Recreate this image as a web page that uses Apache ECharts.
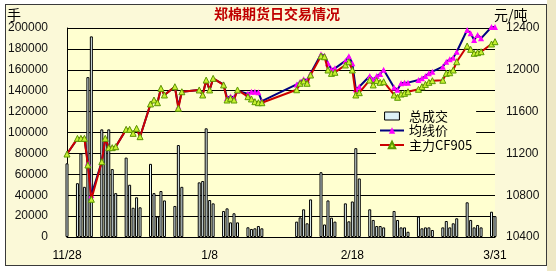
<!DOCTYPE html>
<html><head><meta charset="utf-8">
<script src="https://cdn.jsdelivr.net/npm/echarts@6/dist/echarts.min.js"></script>
<style>
html,body{margin:0;padding:0;background:#fff}
#wrap{position:relative;width:556px;height:271px;overflow:hidden}
#strip{position:absolute;left:547px;top:0;width:9px;height:271px;background:#EEE8C6}
#frame{position:absolute;left:5px;top:4px;width:540px;height:260px;border:1px solid #3a3a3a;background:#FBF9D8}
#c{position:absolute;left:0;top:0;width:556px;height:271px}
</style>
</head><body><div id="wrap"><div id="strip"></div><div id="frame"></div><div id="c"></div></div>
<script>
const tradeDates = ['2008-11-28','2008-12-01','2008-12-02','2008-12-03','2008-12-04','2008-12-05','2008-12-08','2008-12-09','2008-12-10','2008-12-11','2008-12-12','2008-12-15','2008-12-16','2008-12-17','2008-12-18','2008-12-19','2008-12-22','2008-12-23','2008-12-24','2008-12-25','2008-12-26','2008-12-29','2008-12-30','2008-12-31','2009-01-05','2009-01-06','2009-01-07','2009-01-08','2009-01-09','2009-01-12','2009-01-13','2009-01-14','2009-01-15','2009-01-16','2009-01-19','2009-01-20','2009-01-21','2009-01-22','2009-01-23','2009-02-02','2009-02-03','2009-02-04','2009-02-05','2009-02-06','2009-02-09','2009-02-10','2009-02-11','2009-02-12','2009-02-13','2009-02-16','2009-02-17','2009-02-18','2009-02-19','2009-02-20','2009-02-23','2009-02-24','2009-02-25','2009-02-26','2009-02-27','2009-03-02','2009-03-03','2009-03-04','2009-03-05','2009-03-06','2009-03-09','2009-03-10','2009-03-11','2009-03-12','2009-03-13','2009-03-16','2009-03-17','2009-03-18','2009-03-19','2009-03-20','2009-03-23','2009-03-24','2009-03-25','2009-03-26','2009-03-27','2009-03-30','2009-03-31'];
const volume = [70500,51500,80000,48000,153000,192000,103000,95000,103000,65000,42000,
  76000,50000,28000,38000,28400,
  70000,42000,19500,44000,35000,
  29700,88000,48000,
  52300,53600,104000,35400,32200,
  24900,27400,14000,22700,14000,
  9300,7700,8300,10500,8300,
  14700,18800,26500,13100,36000,
  62000,12000,35000,18500,14700,
  32200,15000,34000,85000,56000,
  26500,16300,10500,10500,9200,
  24900,16300,9200,9200,5000,
  19500,8300,9200,9200,6700,
  9200,15300,9200,13100,17900,
  33200,16300,9200,11500,9200,
  24200,20000];
const mainPrice = [11194,11344,11344,11344,11089,10761,11121,11344,11255,11255,11264,
  11430,11430,11392,11440,11360,
  11673,11711,11685,11823,11759,
  11838,11632,11790,
  11807,11759,11902,11807,11918,
  11855,11711,11727,11711,11807,
  11743,11721,11695,11685,11685,
  11809,11871,11893,11871,11950,
  12132,12125,11998,11966,11976,
  12046,12077,11998,11759,11781,
  11902,11855,11896,11880,11886,
  11759,11737,11768,11775,11790,
  11813,11838,11860,11880,11896,
  11900,11966,11972,11998,12077,
  12228,12196,12158,12164,12173,
  12247,12269];
const avgPrice = [11194,11340,11344,11344,11110,10800,11121,11340,11255,11255,11264,
  11430,11430,11392,11440,11360,
  11673,11711,11685,11823,11759,
  11838,11650,11790,
  11807,11765,11895,11810,11915,
  11860,11730,11745,11735,11800,
  11770,11790,11790,11785,11700,
  11860,11886,11910,11900,11965,
  12150,12135,12062,12005,12014,
  12085,12130,12062,11815,11838,
  11941,11905,11940,11960,12000,
  11830,11810,11871,11877,11877,
  11902,11918,11940,11966,11982,
  12030,12077,12100,12115,12173,
  12381,12349,12285,12333,12301,
  12410,12410];
const xTickLabels = ['11/28','1/8','2/18','3/31'];
const seriesNames = ['总成交','均线价','主力CF905'];
const titleText = '郑棉期货日交易情况';
const leftUnit = '手';
const rightUnit = '元/吨';

const startDate = tradeDates[0];
const dayMs = 86400000;
function dayIndex(s){ return Math.round((Date.parse(s+'T00:00:00Z') - Date.parse(startDate+'T00:00:00Z'))/dayMs); }
const xs = tradeDates.map(dayIndex);
const lastDay = xs[xs.length-1];
const tickStep = lastDay / (xTickLabels.length - 1);

const FONT = "'Liberation Sans', 'Noto Sans CJK SC', sans-serif";
const CJK = "'Noto Sans CJK SC', 'Liberation Sans', sans-serif";
const plotBg = '#FFFFD0';
const plain = function(v){ return String(v); };
const noTick = {show:true, length:0, lineStyle:{color:'rgba(0,0,0,0)'}};

const chart = echarts.init(document.getElementById('c'), null, {renderer:'canvas'});
chart.setOption({
  animation:false,
  backgroundColor:'transparent',
  graphic:[
    {type:'text', x:277, y:14, style:{text:titleText, fontSize:14, fontWeight:'bold', fontFamily:CJK, fill:'#C00000', align:'center', verticalAlign:'middle'}},
    {type:'text', x:7, y:15, style:{text:leftUnit, fontSize:14, fontFamily:CJK, fill:'#000', align:'left', verticalAlign:'middle'}},
    {type:'text', x:494, y:15, style:{text:rightUnit, fontSize:14, fontFamily:CJK, fill:'#000', align:'left', verticalAlign:'middle'}}
  ],
  grid:{left:67, top:28, width:428, height:209, show:true, backgroundColor:plotBg, borderWidth:0},
  legend:{
    orient:'vertical', left:376, top:106, padding:[3,4,3,3], itemWidth:24, itemHeight:8, itemGap:0.5,
    backgroundColor:plotBg, selectedMode:false, zlevel:1, z:10,
    textStyle:{fontSize:13, lineHeight:14, color:'#000', fontFamily:CJK},
    data:[
      {name:seriesNames[0], icon:'path://M0,0h13v7h-13z', itemStyle:{color:'#DDF2F8', borderColor:'#000', borderWidth:1}},
      {name:seriesNames[1]},
      {name:seriesNames[2]}
    ]
  },
  xAxis:{
    type:'value', min:0, max:lastDay, interval:tickStep, zlevel:1, z:1,
    axisLine:{show:true, lineStyle:{color:'#000'}},
    axisTick:noTick, splitLine:{show:false},
    axisLabel:{margin:13, fontSize:12, color:'#000', fontFamily:FONT,
      formatter:function(v){ const k = Math.round(v/tickStep); return xTickLabels[k] || ''; }}
  },
  yAxis:[
    {type:'value', min:0, max:200000, interval:20000, zlevel:1, z:1,
     axisLine:{show:true, lineStyle:{color:'#000'}}, axisTick:noTick,
     splitLine:{show:true, lineStyle:{color:'#000', type:'solid'}},
     axisLabel:{margin:19, fontSize:12, color:'#111', fontFamily:FONT, formatter:plain}},
    {type:'value', min:10400, max:12400, interval:400, position:'right', zlevel:1, z:1,
     axisLine:{show:false}, axisTick:noTick, splitLine:{show:false},
     axisLabel:{margin:11, fontSize:12, color:'#111', fontFamily:FONT, formatter:plain}}
  ],
  series:[
    {type:'bar', name:seriesNames[0], yAxisIndex:0, barWidth:3, zlevel:1, z:2,
     data:xs.map((x,i)=>[x, volume[i]]),
     itemStyle:{color:'#E6F6F8', borderColor:'#000', borderWidth:1}},
    {type:'line', name:seriesNames[1], yAxisIndex:1, zlevel:1, z:3, clip:false,
     data:xs.map((x,i)=>[x, avgPrice[i]]),
     symbol:'triangle', symbolSize:6,
     lineStyle:{color:'#000080', width:2},
     itemStyle:{color:'#FF00FF', borderWidth:0}},
    {type:'line', name:seriesNames[2], yAxisIndex:1, zlevel:1, z:4,
     data:xs.map((x,i)=>[x, mainPrice[i]]),
     symbol:'triangle', symbolSize:6,
     lineStyle:{color:'#CC0000', width:2},
     itemStyle:{color:'#C8F032', borderColor:'#5A9A00', borderWidth:1}}
  ]
});
</script></body></html>
